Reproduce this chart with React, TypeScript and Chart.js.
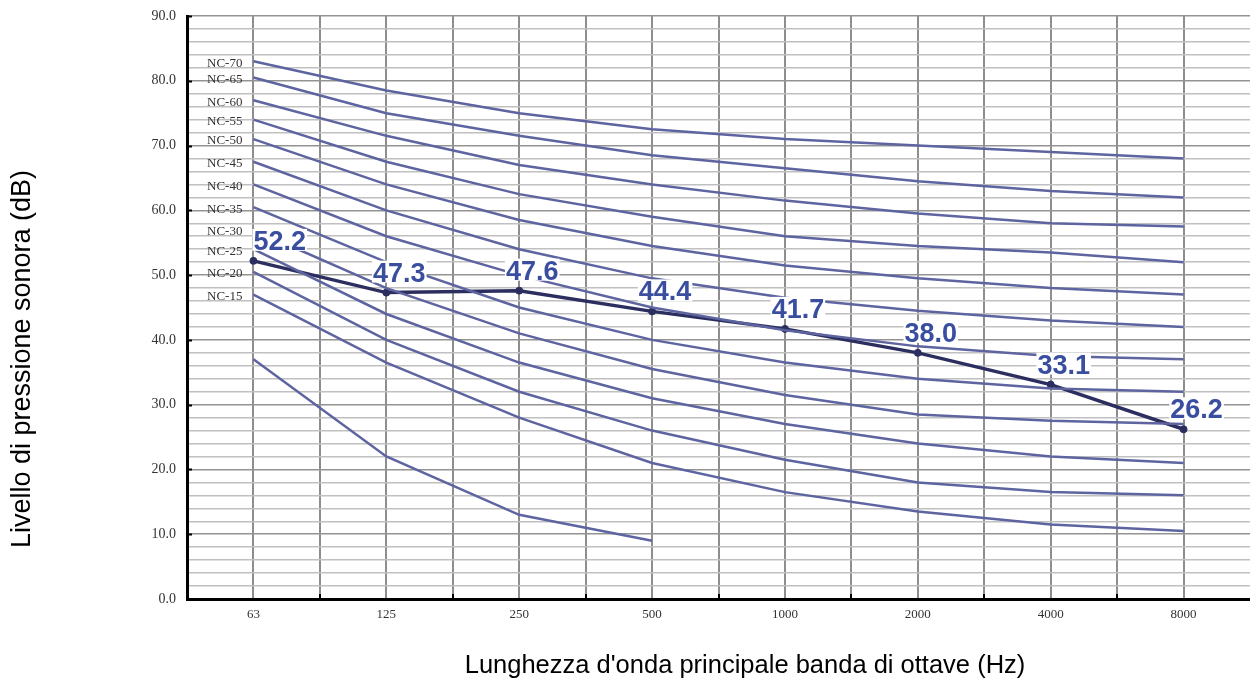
import { useEffect, useRef } from 'react';
import { Chart, registerables } from 'chart.js';

Chart.register(...registerables);

const frequencies = ['63', '125', '250', '500', '1000', '2000', '4000', '8000'];
const measured = [52.2, 47.3, 47.6, 44.4, 41.7, 38.0, 33.1, 26.2];

const ncNames = ['NC-70', 'NC-65', 'NC-60', 'NC-55', 'NC-50', 'NC-45', 'NC-40', 'NC-35', 'NC-30', 'NC-25', 'NC-20', 'NC-15'];
const nc70 = [83, 78.5, 75, 72.5, 71, 70, 69, 68];
const nc65 = [80.5, 75, 71.5, 68.5, 66.5, 64.5, 63, 62];
const nc60 = [77, 71.5, 67, 64, 61.5, 59.5, 58, 57.5];
const nc55 = [74, 67.5, 62.5, 59, 56, 54.5, 53.5, 52];
const nc50 = [71, 64, 58.5, 54.5, 51.5, 49.5, 48, 47];
const nc45 = [67.5, 60, 54, 49.5, 46.5, 44.5, 43, 42];
const nc40 = [64, 56, 50, 45, 41.5, 39, 37.5, 37];
const nc35 = [60.5, 52, 45, 40, 36.5, 34, 32.5, 32];
const nc30 = [57, 48, 41, 35.5, 31.5, 28.5, 27.5, 27];
const nc25 = [54, 44, 36.5, 31, 27, 24, 22, 21];
const nc20 = [50.5, 40, 32, 26, 21.5, 18, 16.5, 16];
const nc15 = [47, 36.5, 28, 21, 16.5, 13.5, 11.5, 10.5];
const lowCurve = [37, 22, 13, 9, null, null, null, null];
const ncCurves = [nc70, nc65, nc60, nc55, nc50, nc45, nc40, nc35, nc30, nc25, nc20, nc15];

const yTitle = 'Livello di pressione sonora (dB)';
const xTitle = "Lunghezza d'onda principale banda di ottave (Hz)";

const NC_COLOR = '#5d64a0';
const MAIN_COLOR = '#2b2e5e';
const LABEL_COLOR = '#3a4ea0';
const CLEAR = 'rgba(0,0,0,0)';

const toPoints = (arr: (number | null)[]) =>
  arr.map((y, i) => (y == null ? null : { x: i, y })).filter((p) => p !== null) as { x: number; y: number }[];

export default function App() {
  const ref = useRef<HTMLCanvasElement>(null);

  useEffect(() => {
    if (!ref.current) return;

    const overlay = {
      id: 'overlay',
      afterDatasetsDraw(chart: any) {
        const { ctx, chartArea, scales } = chart;
        const xs = scales.x;
        const ys = scales.y;
        ctx.save();
        // inner tick marks
        ctx.strokeStyle = '#000';
        ctx.lineWidth = 2;
        for (let v = 10; v <= 90; v += 10) {
          const y = Math.round(ys.getPixelForValue(v)) + 0.5;
          ctx.beginPath();
          ctx.moveTo(chartArea.left, y);
          ctx.lineTo(chartArea.left + 5, y);
          ctx.stroke();
        }
        for (let i = 0; i < frequencies.length - 1; i++) {
          const x = Math.round(xs.getPixelForValue(i + 0.5));
          ctx.beginPath();
          ctx.moveTo(x, chartArea.bottom);
          ctx.lineTo(x, chartArea.bottom - 5);
          ctx.stroke();
        }
        // NC labels
        ctx.font = '13px "Liberation Serif", "DejaVu Serif", serif';
        ctx.fillStyle = '#333';
        ctx.textAlign = 'left';
        ctx.textBaseline = 'middle';
        ncCurves.forEach((c, k) => {
          ctx.fillText(ncNames[k], chartArea.left + 20, ys.getPixelForValue(c[0]) + 2);
        });
        // data labels
        ctx.font = 'bold 27px "Liberation Sans", Arial, sans-serif';
        ctx.textBaseline = 'alphabetic';
        measured.forEach((v, i) => {
          const px = xs.getPixelForValue(i);
          const py = ys.getPixelForValue(v);
          const txt = v.toFixed(1);
          const w = ctx.measureText(txt).width;
          const left = i === 0 ? px : px + 13 - w / 2;
          const base = py - 11;
          ctx.fillStyle = '#fff';
          ctx.fillRect(left - 1, base - 21, w + 2, 22);
          ctx.fillStyle = LABEL_COLOR;
          ctx.textAlign = 'left';
          ctx.fillText(txt, left, base);
        });
        ctx.restore();
      },
      afterDraw(chart: any) {
        const { ctx } = chart;
        ctx.save();
        ctx.fillStyle = '#000';
        ctx.textAlign = 'center';
        ctx.textBaseline = 'middle';
        ctx.font = '25.5px "Liberation Sans", Arial, sans-serif';
        ctx.fillText(xTitle, 745, 666);
        ctx.font = '27px "Liberation Sans", Arial, sans-serif';
        ctx.translate(23, 359);
        ctx.rotate(-Math.PI / 2);
        ctx.fillText(yTitle, 0, 0);
        ctx.restore();
      },
    };

    const datasets: any[] = ncCurves.map((c, k) => ({
      label: ncNames[k],
      data: toPoints(c),
      borderColor: NC_COLOR,
      borderWidth: 2.5,
      pointRadius: 0,
      tension: 0,
      fill: false,
    }));
    datasets.push({
      label: 'low',
      data: toPoints(lowCurve),
      borderColor: NC_COLOR,
      borderWidth: 2.5,
      pointRadius: 0,
      tension: 0,
      fill: false,
    });
    datasets.push({
      label: 'measured',
      data: toPoints(measured),
      borderColor: MAIN_COLOR,
      backgroundColor: MAIN_COLOR,
      borderWidth: 3.5,
      pointRadius: 3.5,
      pointBorderWidth: 1,
      pointBorderColor: MAIN_COLOR,
      pointBackgroundColor: MAIN_COLOR,
      tension: 0,
      fill: false,
    });

    const chart = new Chart(ref.current, {
      type: 'line',
      data: { datasets },
      plugins: [overlay],
      options: {
        animation: false,
        responsive: true,
        maintainAspectRatio: false,
        layout: { autoPadding: false, padding: { top: 16, right: 0, left: 0, bottom: 0 } },
        plugins: { legend: { display: false }, tooltip: { enabled: false } },
        scales: {
          x: {
            type: 'linear',
            min: -0.5,
            max: 7.5,
            afterFit: (s: any) => {
              s.height = 83;
              s.paddingLeft = 0;
              s.paddingRight = 0;
            },
            ticks: {
              stepSize: 0.5,
              autoSkip: false,
              maxRotation: 0,
              padding: 0,
              color: '#333',
              font: { family: '"Liberation Serif", "DejaVu Serif", serif', size: 13 },
              callback: (v: any) => {
                const n = Number(v);
                return Number.isInteger(n) && n >= 0 && n < frequencies.length ? frequencies[n] : '';
              },
            },
            grid: {
              drawTicks: true,
              tickLength: 8,
              tickColor: CLEAR,
              lineWidth: 2,
              color: (c: any) => {
                const v = c.tick ? c.tick.value : 0;
                return v <= -0.5 || v >= 7.5 ? CLEAR : '#8e8e8e';
              },
            },
            border: { display: true, color: '#000', width: 3 },
          },
          y: {
            min: 0,
            max: 90,
            afterFit: (s: any) => {
              s.width = 187;
            },
            ticks: {
              stepSize: 2,
              autoSkip: false,
              maxTicksLimit: 100,
              padding: 0,
              color: '#333',
              font: { family: '"Liberation Serif", "DejaVu Serif", serif', size: 14 },
              callback: (v: any) => (Number(v) % 10 === 0 ? Number(v).toFixed(1) : ''),
            },
            grid: {
              drawTicks: true,
              tickLength: 11,
              tickColor: CLEAR,
              lineWidth: 1.5,
              color: (c: any) => {
                const v = c.tick ? c.tick.value : 0;
                return v % 10 === 0 ? '#939393' : '#c0c0c0';
              },
            },
            border: { display: true, color: '#000', width: 3 },
          },
        },
      },
    });
    return () => chart.destroy();
  }, []);

  return (
    <div style={{ position: 'absolute', left: 0, top: 0, width: 1250, height: 682, background: '#fff' }}>
      <canvas ref={ref} />
    </div>
  );
}
